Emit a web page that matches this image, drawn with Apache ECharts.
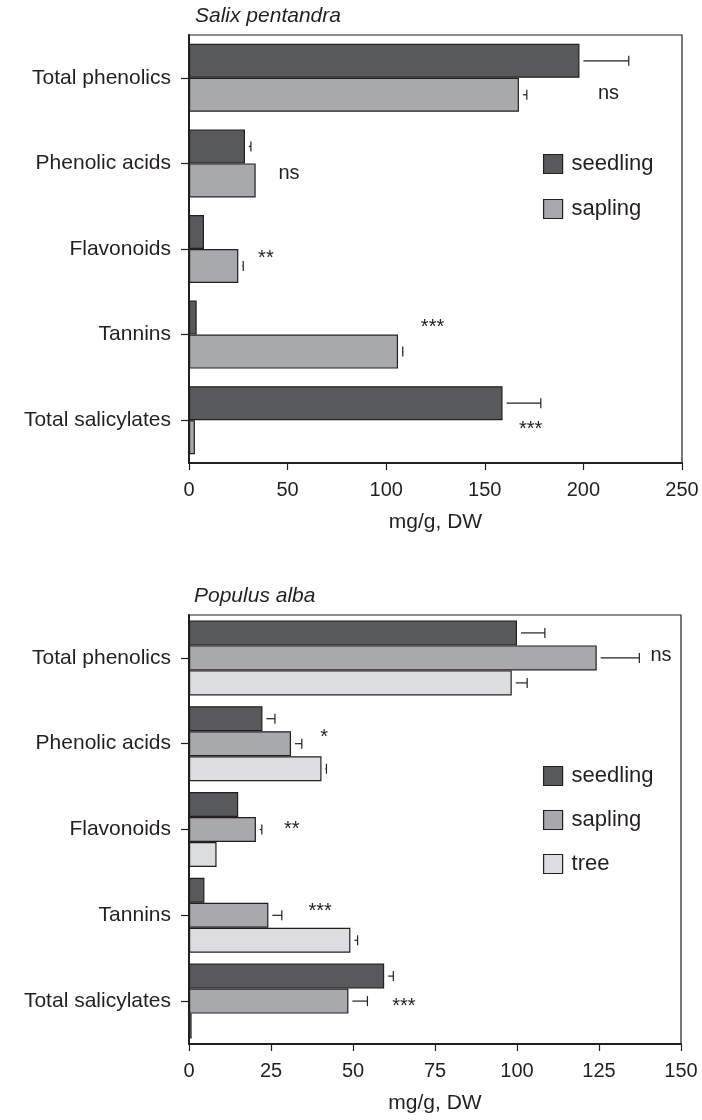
<!DOCTYPE html>
<html>
<head>
<meta charset="utf-8">
<script src="https://cdn.jsdelivr.net/npm/echarts@6/dist/echarts.min.js"></script>
<style>
  html, body { margin: 0; padding: 0; background: #fff; }
  #chart { width: 702px; height: 1120px; }
</style>
</head>
<body>
<div id="chart"></div>
<script>
// categories (top to bottom)
const categories = ['Total phenolics', 'Phenolic acids', 'Flavonoids', 'Tannins', 'Total salicylates']

// Salix pentandra, mg/g DW
const salixSeedling = [198, 28.4, 7.6, 3.9, 159]
const salixSeedlingErr = [25, 3, 0, 0, 19.4]
const salixSapling = [167.3, 33.8, 25, 106, 3]
const salixSaplingErr = [4, 0, 2.5, 2.4, 0]
const salixSig = ['ns', 'ns', '**', '***', '***']
const salixSigAt = [212.7, 50.7, 39, 123.5, 173.2]

// Populus alba, mg/g DW
const populusSeedling = [100, 22.4, 15, 4.7, 59.5]
const populusSeedlingErr = [8.5, 3.8, 0, 0, 2.8]
const populusSapling = [124.3, 31.1, 20.4, 24.2, 48.6]
const populusSaplingErr = [13, 3.3, 1.8, 4.1, 5.8]
const populusTree = [98.4, 40.4, 8.4, 49.2, 0.8]
const populusTreeErr = [4.7, 1.5, 0, 2.2, 0]
const populusSig = ['ns', '*', '**', '***', '***']
const populusSigAt = [143.9, 41.2, 31.3, 40, 65.5]

// layout / style
const ink = '#231f20'
const font = 'Liberation Sans, Arial, Helvetica, sans-serif'
const colors = { seedling: '#58595b', sapling: '#a7a9ac', tree: '#dcdddf' }
const salixSigDy = [15.5, 9.6, 9, -7.6, 9]
const populusSigDy = [-2, -6.7, 0, -4.3, 5]

const chart = echarts.init(document.getElementById('chart'), null, { renderer: 'canvas' })

function barSeries(name, data, gridIdx, width) {
  return {
    type: 'bar',
    name,
    data,
    xAxisIndex: gridIdx,
    yAxisIndex: gridIdx,
    barWidth: width,
    barGap: '0%',
    silent: true,
    itemStyle: { color: colors[name], borderColor: ink, borderWidth: 1.2 },
  }
}

// error whiskers: small gap after bar end, line, then end cap
function errorSeries(gridIdx, groups, barW) {
  const data = []
  groups.forEach(([vals, errs], g) => {
    vals.forEach((v, i) => { if (errs[i] > 0) data.push([v, i, g, errs[i]]) })
  })
  const n = groups.length
  return {
    type: 'custom',
    xAxisIndex: gridIdx,
    yAxisIndex: gridIdx,
    silent: true,
    z: 5,
    encode: { x: 0, y: 1 },
    data,
    renderItem(params, api) {
      const v = api.value(0), cat = api.value(1), g = api.value(2), e = api.value(3)
      const p0 = api.coord([v, cat])
      const p1 = api.coord([v + e, cat])
      const y = p0[1] - (n * barW) / 2 + barW * (g + 0.5)
      const x0 = Math.min(p0[0] + 4, p1[0])
      const style = { stroke: ink, lineWidth: 1.2 }
      return {
        type: 'group',
        children: [
          { type: 'line', shape: { x1: x0, y1: y, x2: p1[0], y2: y }, style },
          { type: 'line', shape: { x1: p1[0], y1: y - 5, x2: p1[0], y2: y + 5 }, style },
        ],
      }
    },
  }
}

function sigSeries(gridIdx, texts, at, dy) {
  return {
    type: 'scatter',
    xAxisIndex: gridIdx,
    yAxisIndex: gridIdx,
    symbolSize: 0,
    silent: true,
    itemStyle: { opacity: 1 },
    data: texts.map((t, i) => ({ value: [at[i], i], label: { offset: [0, dy[i]] } })),
    label: {
      show: true,
      position: 'inside',
      formatter: (p) => texts[p.dataIndex],
      color: ink,
      opacity: 1,
      fontSize: 20,
      fontFamily: font,
    },
  }
}

function xAxisOf(gridIdx, max, interval) {
  return {
    type: 'value',
    gridIndex: gridIdx,
    min: 0,
    max,
    interval,
    name: 'mg/g, DW',
    nameLocation: 'middle',
    nameGap: 49,
    nameTextStyle: { color: ink, fontSize: 21, fontFamily: font },
    axisLine: { show: true, lineStyle: { color: ink, width: 2 } },
    axisTick: { show: true, length: 7, lineStyle: { color: ink, width: 1.2 } },
    axisLabel: { color: ink, fontSize: 20, fontFamily: font, margin: 17 },
    splitLine: { show: false },
  }
}

function yAxisOf(gridIdx) {
  return {
    type: 'category',
    gridIndex: gridIdx,
    data: categories,
    inverse: true,
    axisLine: { show: true, lineStyle: { color: ink, width: 2 } },
    axisTick: { show: true, alignWithLabel: true, length: 8, lineStyle: { color: ink, width: 1.2 } },
    axisLabel: { color: ink, fontSize: 21, fontFamily: font, margin: 18 },
  }
}

function legendOf(names, top, gap) {
  return {
    data: names,
    orient: 'vertical',
    left: 538,
    top,
    icon: 'rect',
    itemWidth: 19,
    itemHeight: 19,
    itemGap: gap,
    selectedMode: false,
    itemStyle: { borderColor: ink, borderWidth: 1.2 },
    textStyle: { color: ink, fontSize: 22, fontFamily: font, lineHeight: 19, padding: [0, 0, 0, 4] },
  }
}

chart.setOption({
  backgroundColor: '#fff',
  animation: false,
  title: [
    { text: 'Salix pentandra', left: 190, top: 1, textStyle: { color: ink, fontSize: 21, fontStyle: 'italic', fontWeight: 'normal', fontFamily: font } },
    { text: 'Populus alba', left: 189, top: 581, textStyle: { color: ink, fontSize: 21, fontStyle: 'italic', fontWeight: 'normal', fontFamily: font } },
  ],
  legend: [
    legendOf(['seedling', 'sapling'], 148, 23),
    legendOf(['seedling', 'sapling', 'tree'], 760, 22),
  ],
  grid: [
    { left: 189, top: 35, width: 493, height: 428, show: true, borderColor: ink, borderWidth: 1.2, backgroundColor: 'transparent' },
    { left: 189, top: 615, width: 492, height: 429, show: true, borderColor: ink, borderWidth: 1.2, backgroundColor: 'transparent' },
  ],
  xAxis: [xAxisOf(0, 250, 50), xAxisOf(1, 150, 25)],
  yAxis: [yAxisOf(0), yAxisOf(1)],
  series: [
    barSeries('seedling', salixSeedling, 0, 34),
    barSeries('sapling', salixSapling, 0, 34),
    errorSeries(0, [[salixSeedling, salixSeedlingErr], [salixSapling, salixSaplingErr]], 34),
    sigSeries(0, salixSig, salixSigAt, salixSigDy),

    barSeries('seedling', populusSeedling, 1, 25),
    barSeries('sapling', populusSapling, 1, 25),
    barSeries('tree', populusTree, 1, 25),
    errorSeries(1, [[populusSeedling, populusSeedlingErr], [populusSapling, populusSaplingErr], [populusTree, populusTreeErr]], 25),
    sigSeries(1, populusSig, populusSigAt, populusSigDy),
  ],
})
</script>
</body>
</html>
